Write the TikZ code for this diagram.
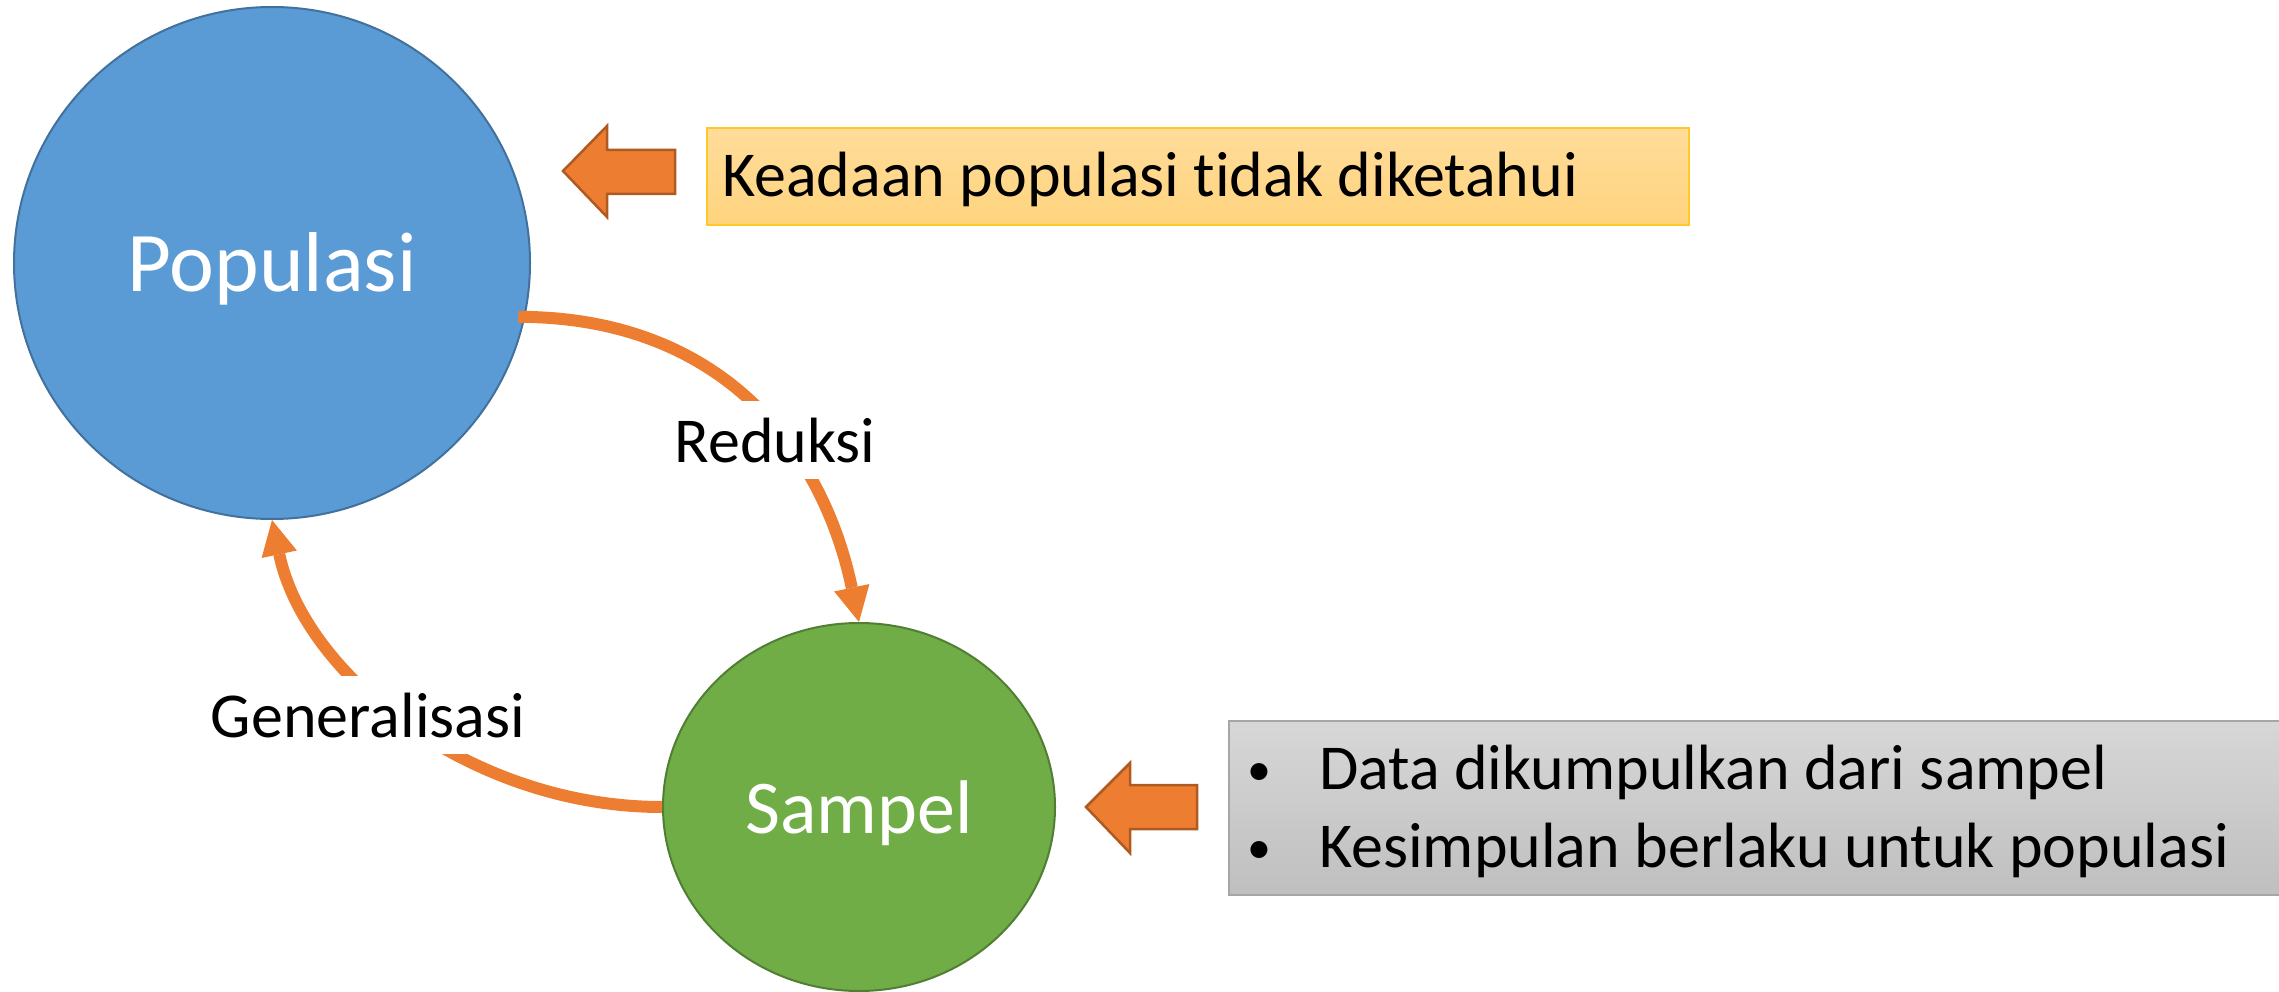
\documentclass[tikz,border=0pt]{standalone}
\usepackage{fontspec}
\setmainfont{Carlito}[Ligatures=NoCommon]
\usetikzlibrary{shapes.geometric,arrows.meta}
\definecolor{popblue}{HTML}{5B9BD5}
\definecolor{popedge}{HTML}{41719C}
\definecolor{sampgreen}{HTML}{70AD47}
\definecolor{sampedge}{HTML}{507E32}
\definecolor{accorange}{HTML}{ED7D31}
\definecolor{arrowedge}{HTML}{AE5A21}
\definecolor{goldtop}{HTML}{FFDC9A}
\definecolor{goldbot}{HTML}{FFD47E}
\definecolor{goldedge}{HTML}{FFC729}
\definecolor{graytop}{HTML}{D7D7D7}
\definecolor{graybot}{HTML}{BFBFBF}
\definecolor{grayedge}{HTML}{A6A6A6}
\begin{document}
\begin{tikzpicture}[x=1pt,y=-1pt,
  circ/.style={ellipse, inner sep=0pt, line width=2pt, text=white},
  lbl/.style={font=\fontsize{64}{78}\selectfont, text height=61pt, text depth=17pt, inner ysep=0pt, inner xsep=4pt, fill=white},
  body/.style={font=\fontsize{64}{78}\selectfont, inner sep=0pt},
  bullet/.style={font=\fontsize{48}{58}\selectfont, inner sep=0pt},
  flow/.style={draw=accorange, line width=12pt, -{Triangle[length=35pt,width=36pt,line width=0pt]}},
  blockarrow/.style={fill=accorange, draw=arrowedge, line width=2.5pt, line join=miter},
  notebox/.style={rectangle, anchor=north west, inner sep=0pt, line width=2pt}
]
\useasboundingbox (0,0) rectangle (2279,992);

% main ellipses
\node[circ, fill=popblue, draw=popedge, minimum width=516pt, minimum height=512pt,
      font=\fontsize{85}{102}\selectfont, text height=81pt, text depth=23pt] (pop) at (272,263) {Populasi};
\node[circ, fill=sampgreen, draw=sampedge, minimum width=392pt, minimum height=368pt,
      font=\fontsize{76}{92}\selectfont, text height=72pt, text depth=20pt] (samp) at (859,807) {Sampel};

% curved connectors
\draw[flow] ([xshift=-7pt]pop.-12) .. controls +(200,0) and +(-37,-176) .. (samp.north);
\draw[flow] (samp.west) .. controls +(-190,0) and +(33,156) .. (pop.south);

% connector labels
\node[lbl, anchor=base] (red) at (775,462) {Reduksi};
\node[lbl, anchor=base] (gen) at (368,737) {Generalisasi};

% top note
\node[notebox, top color=goldtop, bottom color=goldbot, draw=goldedge,
      minimum width=982pt, minimum height=97pt] (note) at (706,127) {};
\node[body, anchor=base west] (notetxt) at (722,197) {Keadaan populasi tidak diketahui};
\draw[blockarrow] (563,171) -- (607,126) -- (607,150) -- (675,150) -- (675,194) -- (607,194) -- (607,217) -- cycle;

% bottom note
\node[notebox, top color=graytop, bottom color=graybot, draw=grayedge,
      minimum width=1058pt, minimum height=174pt] (info) at (1228,720) {};
\node[bullet, anchor=base] (b1) at (1259,785) {•};
\node[body, anchor=base west] (l1) at (1319,789) {Data dikumpulkan dari sampel};
\node[bullet, anchor=base] (b2) at (1259,863) {•};
\node[body, anchor=base west] (l2) at (1319,867) {Kesimpulan berlaku untuk populasi};
\draw[blockarrow] (1086,807) -- (1130,763) -- (1130,785) -- (1197,785) -- (1197,829) -- (1130,829) -- (1130,853) -- cycle;
\end{tikzpicture}
\end{document}
